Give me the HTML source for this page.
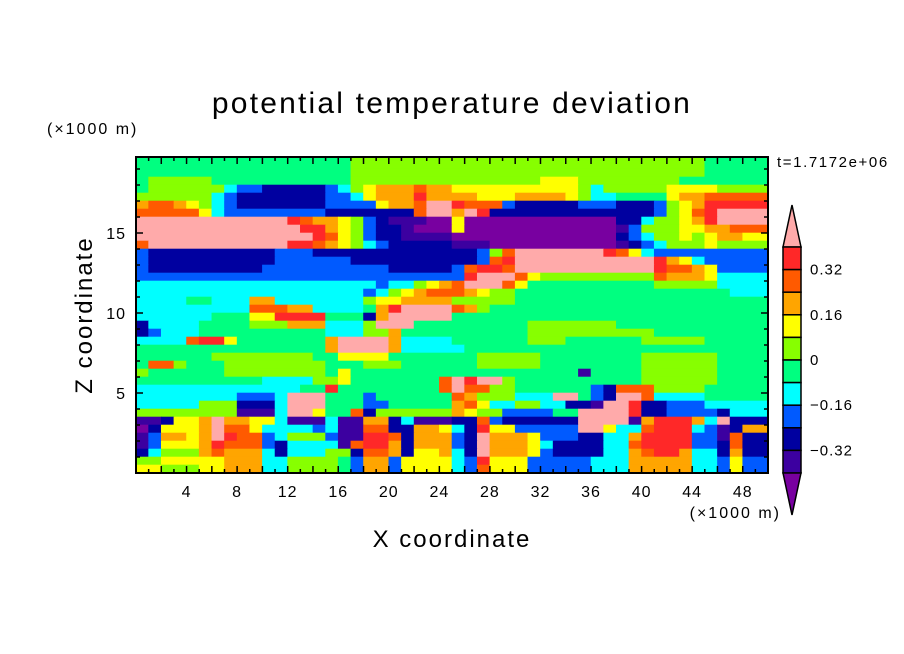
<!DOCTYPE html>
<html><head><meta charset="utf-8"><style>
html,body{margin:0;padding:0;background:#fff;}
svg{display:block;font-family:"Liberation Sans",sans-serif;}
</style></head><body>
<svg id="chart" width="904" height="654" viewBox="0 0 904 654">
<text x="452" y="113" font-size="30" letter-spacing="2.2" text-anchor="middle">potential temperature deviation</text>
<text x="47" y="134" font-size="16" letter-spacing="2">(×1000 m)</text>
<text x="777" y="167" font-size="15" letter-spacing="1.6">t=1.7172e+06</text>
<text x="452" y="547" font-size="24" letter-spacing="2" text-anchor="middle">X coordinate</text>
<text x="0" y="0" font-size="24" letter-spacing="2" text-anchor="middle" transform="translate(92,315) rotate(-90)">Z coordinate</text>
<text x="781" y="518" font-size="16" letter-spacing="2" text-anchor="end">(×1000 m)</text>
<clipPath id="pc"><rect x="136" y="157" width="632" height="316"/></clipPath>
<g id="field" clip-path="url(#pc)"></g>
<g id="axes"></g>
<g id="cbar"></g>
</svg>
<script>
const levelColors = ["#7800a0","#3c00a0","#0000a0","#005aff","#00ffff","#00ff80","#87ff00","#ffff00","#ffa500","#ff5a00","#ff2828","#ffaaaa"];
const colorbarLabels = ["0.32","0.16","0","-0.16","-0.32"];
const xTickLabels = [4,8,12,16,20,24,28,32,36,40,44,48];
const yTickLabels = [5,10,15];
const xRange = [0,50];
const zRange = [0,19.75];
const zRowHeight = 0.5;
// each row: "startKm:level" runs, rows from top (z=20) downward, 1 km columns
const fieldRows = [
"0:5 17:6 45:5",
"0:5 17:6 45:5",
"0:5 17:6 45:5",
"0:5 1:6 6:5 17:6 32:7 35:6 43:5",
"0:5 1:6 7:4 8:3 10:2 15:3 16:4 17:6 18:7 19:8 22:9 23:8 25:7 35:6 36:4 37:6 42:7 46:6",
"0:6 6:4 7:3 8:2 15:3 17:4 18:7 19:8 22:a 23:8 25:8 27:7 30:8 34:7 35:6 36:4 38:5 42:7 43:8 45:9",
"0:8 1:9 3:8 4:7 5:6 6:4 7:3 8:2 15:3 19:7 20:8 22:9 23:b 25:a 26:9 29:3 30:2 35:3 38:2 41:3 42:6 43:7 44:8 45:a",
"0:9 5:7 6:4 7:3 15:2 22:9 23:b 25:8 26:b 27:a 28:2 41:3 42:6 43:7 44:9 45:a 46:b",
"0:b 12:a 13:9 14:8 16:7 17:6 18:3 19:2 20:1 23:0 25:7 26:0 38:2 40:4 41:6 43:7 44:8 45:a 46:b",
"0:b 13:a 15:8 16:7 17:6 18:3 19:2 21:1 22:0 25:7 26:0 38:1 39:3 40:6 43:7 45:8 47:9",
"0:b 14:a 15:9 16:7 17:6 18:3 19:2 21:1 25:0 38:2 39:3 40:4 41:6 43:7 44:6 45:7 46:8 48:7",
"0:9 1:b 12:a 14:9 15:8 16:7 17:6 18:4 19:3 20:2 25:1 28:0 38:1 39:2 40:3 41:4 42:6 45:7 46:6",
"0:3 1:2 11:3 14:2 25:2 27:3 28:6 29:9 30:b 37:a 38:9 39:7 40:4 41:3",
"0:3 1:2 11:3 17:2 25:2 27:3 28:9 29:a 30:b 41:a 42:8 43:7 44:4 45:3",
"0:3 1:2 10:3 20:2 25:3 26:9 27:a 29:9 30:b 41:a 42:9 44:8 45:7 46:3",
"0:3 25:3 26:a 27:b 30:9 31:7 32:6 41:9 42:8 45:7 46:4",
"0:4 19:3 20:4 22:6 23:7 24:8 25:9 26:b 29:9 30:7 31:5 41:6 46:4",
"0:4 18:3 19:4 20:6 21:7 22:8 23:9 25:9 26:8 27:7 28:6 30:5 47:4",
"0:4 4:5 6:4 9:8 11:4 18:6 19:7 21:8 25:6 30:5",
"0:4 9:9 12:8 14:4 18:5 19:8 20:a 21:b 25:9 26:8 27:6 28:5",
"0:4 6:5 9:7 11:a 15:5 18:2 19:8 20:b 25:5",
"0:2 1:4 5:5 9:6 12:8 15:4 18:6 19:b 22:5 31:6 38:5",
"0:2 1:3 2:4 5:5 15:4 18:6 20:8 21:5 31:6 41:5",
"0:4 4:9 5:a 7:7 8:5 15:8 16:b 20:8 21:4 25:5 31:6 34:5 40:6 45:5",
"0:5 15:8 16:b 20:8 21:4 25:4 26:5",
"0:5 6:6 14:5 16:7 20:5 27:6 32:5 40:6 46:5",
"0:5 1:9 3:6 4:5 7:6 15:5 18:6 21:5 27:6 32:5 40:6 46:5",
"0:6 1:5 7:6 15:5 16:7 17:5 35:1 36:5 40:6 46:5",
"0:5 10:4 14:6 16:7 17:5 24:9 25:b 26:a 27:b 29:6 30:5 40:6 46:5",
"0:4 13:5 15:a 16:5 24:9 25:b 26:9 28:6 30:5 36:3 37:2 38:9 41:6 45:5",
"0:4 8:3 11:4 12:b 15:5 18:3 19:5 25:9 26:8 27:6 30:4 33:b 35:5 36:3 37:2 38:b 40:9 41:4 45:5",
"0:4 5:6 8:2 11:4 12:b 15:5 18:3 20:5 25:8 26:9 27:7 28:4 30:6 32:4 34:2 36:1 37:b 39:a 40:2 42:3 45:4",
"0:6 8:1 11:4 12:b 14:7 15:5 17:9 18:2 19:6 25:8 26:7 27:6 29:3 33:5 35:b 39:a 40:2 42:3 46:2 47:4",
"0:1 2:2 3:7 5:8 6:b 7:8 9:7 11:4 12:1 15:4 16:1 18:8 20:2 21:4 22:1 25:2 27:9 28:3 29:2 35:b 39:1 40:8 41:a 44:8 45:4 46:b 47:2",
"0:0 1:2 2:7 5:8 6:b 7:9 9:7 10:4 14:3 15:4 16:1 18:9 20:2 22:8 24:7 25:4 26:2 27:a 28:7 30:3 35:b 37:7 38:4 40:9 41:a 44:4 45:3 46:1 47:2 48:8",
"0:1 1:3 2:8 4:7 5:8 6:b 7:a 8:9 10:3 11:4 12:6 15:3 16:1 18:a 20:9 21:2 22:8 25:3 26:2 27:b 28:8 31:7 32:3 35:2 37:4 39:8 40:a 44:3 46:1 47:9 48:2",
"0:1 1:3 2:7 5:8 6:a 7:9 10:3 11:2 12:4 16:1 17:9 18:a 20:8 21:2 22:8 25:3 26:2 27:b 28:8 31:7 32:4 33:2 37:4 39:9 40:a 44:3 46:2 47:9 48:2",
"0:2 1:4 2:6 5:8 6:9 7:8 10:4 11:2 12:4 15:6 17:2 18:9 20:8 21:2 22:7 24:8 25:4 26:2 27:b 28:8 31:7 32:3 33:2 37:4 39:8 40:9 41:a 43:8 44:4 46:2 47:8 48:2",
"0:6 2:7 7:8 10:4 12:6 16:5 17:3 18:8 20:3 21:7 25:4 26:3 27:a 28:7 31:3 36:4 39:8 44:4 46:3 47:7 48:3",
"0:7 2:6 5:7 7:8 10:4 12:6 16:5 17:3 18:8 20:3 21:7 25:4 26:3 27:9 28:7 31:3 36:4 39:8 44:4 46:3 47:7 48:3"
];
const NS="http://www.w3.org/2000/svg";
const PX0=136,PX1=768,PY0=157,PY1=473;
function xs(v){return PX0+(v-xRange[0])/(xRange[1]-xRange[0])*(PX1-PX0);}
function zs(v){return PY1-(v-zRange[0])/(zRange[1]-zRange[0])*(PY1-PY0);}
function mk(tag,attrs,parent){const e=document.createElementNS(NS,tag);for(const k in attrs)e.setAttribute(k,attrs[k]);parent.appendChild(e);return e;}
const field=document.getElementById('field');
fieldRows.forEach((row,ri)=>{
  const zTop=20-ri*zRowHeight, zBot=zTop-zRowHeight;
  const runs=row.trim().split(/\s+/).map(s=>{const p=s.split(':');return [parseFloat(p[0]),parseInt(p[1],16)];});
  runs.forEach((r,i)=>{
    const x0=r[0], x1=i+1<runs.length?runs[i+1][0]:xRange[1];
    const e=mk('rect',{x:xs(x0)-0.3,y:zs(zTop)-0.3,width:xs(x1)-xs(x0)+0.6,height:zs(zBot)-zs(zTop)+0.6,fill:levelColors[r[1]]},field);
    
    
  });
});
const axes=document.getElementById('axes');
const frame=mk('rect',{x:PX0,y:PY0,width:PX1-PX0,height:PY1-PY0,fill:'none',stroke:'#000','stroke-width':2},axes);


for(let v=1;v<50;v++){
  const L=(v%2===0)?7:4, x=xs(v);
  mk('line',{x1:x,y1:PY1,x2:x,y2:PY1-L,stroke:'#000','stroke-width':1.5},axes);
  mk('line',{x1:x,y1:PY0,x2:x,y2:PY0+L,stroke:'#000','stroke-width':1.5},axes);
}
for(let v=1;v<20;v++){
  const L=(v%5===0)?7:4, y=zs(v);
  mk('line',{x1:PX0,y1:y,x2:PX0+L,y2:y,stroke:'#000','stroke-width':1.5},axes);
  mk('line',{x1:PX1,y1:y,x2:PX1-L,y2:y,stroke:'#000','stroke-width':1.5},axes);
}
xTickLabels.forEach(v=>{
  const t=mk('text',{x:xs(v),y:497,'font-size':16,'letter-spacing':1,'text-anchor':'middle'},axes);t.textContent=v;
  
  
});
yTickLabels.forEach(v=>{
  const t=mk('text',{x:126,y:zs(v)+6,'font-size':16,'letter-spacing':1,'text-anchor':'end'},axes);t.textContent=v;
  
  
});
const cb=document.getElementById('cbar');
const CX0=783,CX1=801,CT=247,CB=473,nBox=10,bh=(CB-CT)/nBox;
const up=mk('polygon',{points:`${CX0},${CT} ${CX1},${CT} ${(CX0+CX1)/2},205`,fill:levelColors[11],stroke:'#000','stroke-width':1.5},cb);


for(let i=0;i<nBox;i++){
  const r=mk('rect',{x:CX0,y:CT+i*bh,width:CX1-CX0,height:bh,fill:levelColors[10-i],stroke:'#000','stroke-width':1.5},cb);
  
  
}
const dn=mk('polygon',{points:`${CX0},${CB} ${CX1},${CB} ${(CX0+CX1)/2},515`,fill:levelColors[0],stroke:'#000','stroke-width':1.5},cb);


colorbarLabels.forEach((s,i)=>{
  const t=mk('text',{x:810,y:CT+(1+2*i)*bh+5,'font-size':15,'letter-spacing':1},cb);t.textContent=s.replace('-','\u2212');
  
  
});
</script>
</body></html>
